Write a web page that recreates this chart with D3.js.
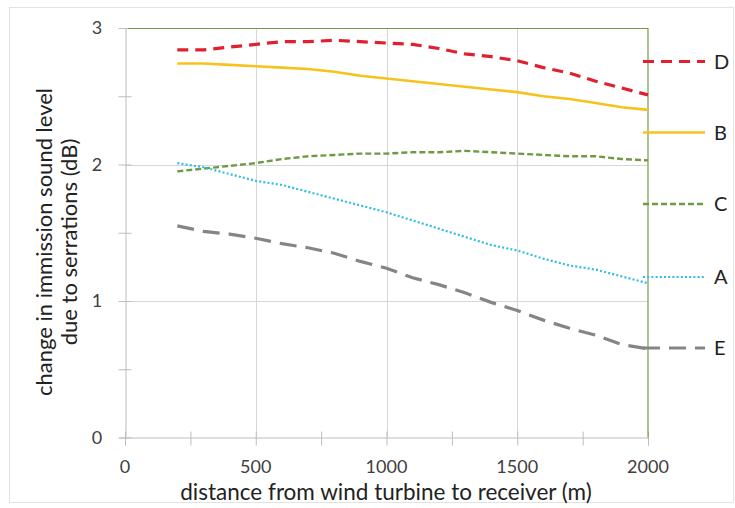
<!DOCTYPE html>
<html>
<head>
<meta charset="utf-8">
<script src="https://cdn.jsdelivr.net/npm/d3@7"></script>
<style>
  html, body { margin: 0; padding: 0; background: #ffffff; }
  svg { display: block; font-family: Lato, "Open Sans", "Noto Sans", sans-serif; }
</style>
</head>
<body>
<svg id="chart" width="735" height="508"></svg>
<script>
// ---- data ----
const distances = [200, 300, 400, 500, 600, 700, 800, 900, 1000, 1100, 1200, 1300, 1400, 1500, 1600, 1700, 1800, 1900, 2000];
const seriesD = [2.84, 2.84, 2.86, 2.88, 2.90, 2.90, 2.91, 2.90, 2.89, 2.88, 2.85, 2.81, 2.79, 2.76, 2.71, 2.67, 2.61, 2.56, 2.51];
const seriesB = [2.74, 2.74, 2.73, 2.72, 2.71, 2.70, 2.68, 2.65, 2.63, 2.61, 2.59, 2.57, 2.55, 2.53, 2.50, 2.48, 2.45, 2.42, 2.40];
const seriesC = [1.95, 1.97, 1.99, 2.01, 2.04, 2.06, 2.07, 2.08, 2.08, 2.09, 2.09, 2.10, 2.09, 2.08, 2.07, 2.06, 2.06, 2.04, 2.03];
const seriesA = [2.01, 1.98, 1.93, 1.88, 1.85, 1.80, 1.75, 1.70, 1.65, 1.59, 1.53, 1.47, 1.41, 1.37, 1.31, 1.26, 1.23, 1.18, 1.13];
const seriesE = [1.55, 1.51, 1.49, 1.46, 1.42, 1.39, 1.35, 1.29, 1.24, 1.17, 1.12, 1.06, 0.99, 0.93, 0.86, 0.80, 0.75, 0.68, 0.65];
const seriesNames = ["D", "B", "C", "A", "E"];
const xTickValues = [0, 500, 1000, 1500, 2000];
const yTickValues = [0, 1, 2, 3];
const xLabel = "distance from wind turbine to receiver (m)";
const yLabel1 = "change in immission sound level";
const yLabel2 = "due to serrations (dB)";

// ---- styles ----
const styles = {
  D: { color: "#e0202e", width: 3.2, dash: "11,7", legendY: 61.5 },
  B: { color: "#f7c21c", width: 2.6, dash: null, legendY: 132.5 },
  C: { color: "#6f9a45", width: 2.4, dash: "6,3", legendY: 204 },
  A: { color: "#2fbde8", width: 2.2, dash: "2,2.2", legendY: 277 },
  E: { color: "#858585", width: 3.2, dash: "17,9", legendY: 348 }
};
const seriesMap = { D: seriesD, B: seriesB, C: seriesC, A: seriesA, E: seriesE };

const svg = d3.select("#chart");
const pLeft = 125, pRight = 648, pTop = 28, pBottom = 437.5;
const x = d3.scaleLinear().domain([0, 2000]).range([pLeft, pRight]);
const y = d3.scaleLinear().domain([0, 3]).range([pBottom, pTop]);

// outer border
svg.append("rect").attr("x", 9.5).attr("y", 7.5).attr("width", 724).attr("height", 495)
  .attr("fill", "none").attr("stroke", "#e3e3e3").attr("stroke-width", 1);

// gridlines
const grid = svg.append("g");
grid.selectAll("line.vg").data([500, 1000, 1500]).enter().append("line")
  .attr("x1", d => Math.round(x(d)) + 0.5).attr("x2", d => Math.round(x(d)) + 0.5)
  .attr("y1", pTop).attr("y2", pBottom).attr("stroke", "#d6d6d6").attr("stroke-width", 1);
grid.selectAll("line.hg").data([1, 2]).enter().append("line")
  .attr("x1", pLeft).attr("x2", pRight)
  .attr("y1", d => Math.round(y(d)) + 0.5).attr("y2", d => Math.round(y(d)) + 0.5)
  .attr("stroke", "#d6d6d6").attr("stroke-width", 1);

// y axis
const yAxis = d3.axisLeft(y).tickValues(d3.range(0, 3.01, 0.5)).tickSize(6).tickFormat("");
const gy = svg.append("g").attr("transform", `translate(${pLeft + 0.5},0)`).call(yAxis);
gy.select(".domain").attr("stroke", "#bdbdbd");
gy.selectAll(".tick line").attr("stroke", "#bdbdbd").attr("x2", -7).attr("x1", 6);
svg.append("g").selectAll("text").data(yTickValues).enter().append("text")
  .attr("x", 97).attr("y", d => y(d)).attr("dy", "0.35em")
  .attr("text-anchor", "middle").attr("font-size", 18).attr("fill", "#404040").text(d => d);

// x axis
const xAxis = d3.axisBottom(x).tickValues(d3.range(0, 2001, 250)).tickSize(8).tickFormat("");
const gx = svg.append("g").attr("transform", `translate(0,${pBottom})`).call(xAxis);
gx.select(".domain").attr("stroke", "#bdbdbd");
gx.selectAll(".tick line").attr("stroke", "#bdbdbd").attr("y1", -6);
svg.append("g").selectAll("text").data(xTickValues).enter().append("text")
  .attr("x", d => x(d)).attr("y", 467).attr("dy", "0.35em")
  .attr("text-anchor", "middle").attr("font-size", 18).attr("fill", "#404040").text(d => d);

// green frame (top and right)
svg.append("line").attr("x1", pLeft + 3).attr("x2", pRight).attr("y1", pTop + 0.5).attr("y2", pTop + 0.5)
  .attr("stroke", "#7a9a4a").attr("stroke-width", 1.2);
svg.append("line").attr("x1", pRight).attr("x2", pRight).attr("y1", pTop).attr("y2", pBottom)
  .attr("stroke", "#7a9a4a").attr("stroke-width", 1.2);

// series
const line = d3.line().x((d, i) => x(distances[i])).y(d => y(d));
seriesNames.forEach(name => {
  const s = styles[name];
  const p = svg.append("path").datum(seriesMap[name])
    .attr("d", line).attr("fill", "none")
    .attr("stroke", s.color).attr("stroke-width", s.width);
  if (s.dash) p.attr("stroke-dasharray", s.dash);
  // legend
  const l = svg.append("line").attr("x1", 643).attr("x2", 705)
    .attr("y1", s.legendY).attr("y2", s.legendY)
    .attr("stroke", s.color).attr("stroke-width", s.width);
  if (s.dash) l.attr("stroke-dasharray", s.dash);
  svg.append("text").attr("x", 714).attr("y", s.legendY).attr("dy", "0.35em")
    .attr("font-size", 20).attr("fill", "#222").text(name);
});

// axis titles
svg.append("text").attr("x", 386).attr("y", 492).attr("dy", "0.35em")
  .attr("text-anchor", "middle").attr("font-size", 22.5).attr("fill", "#222").text(xLabel);
svg.append("text").attr("transform", "translate(44,242) rotate(-90)").attr("dy", "0.35em")
  .attr("text-anchor", "middle").attr("font-size", 22).attr("fill", "#222").text(yLabel1);
svg.append("text").attr("transform", "translate(69,242) rotate(-90)").attr("dy", "0.35em")
  .attr("text-anchor", "middle").attr("font-size", 22).attr("fill", "#222").text(yLabel2);
</script>
</body>
</html>
